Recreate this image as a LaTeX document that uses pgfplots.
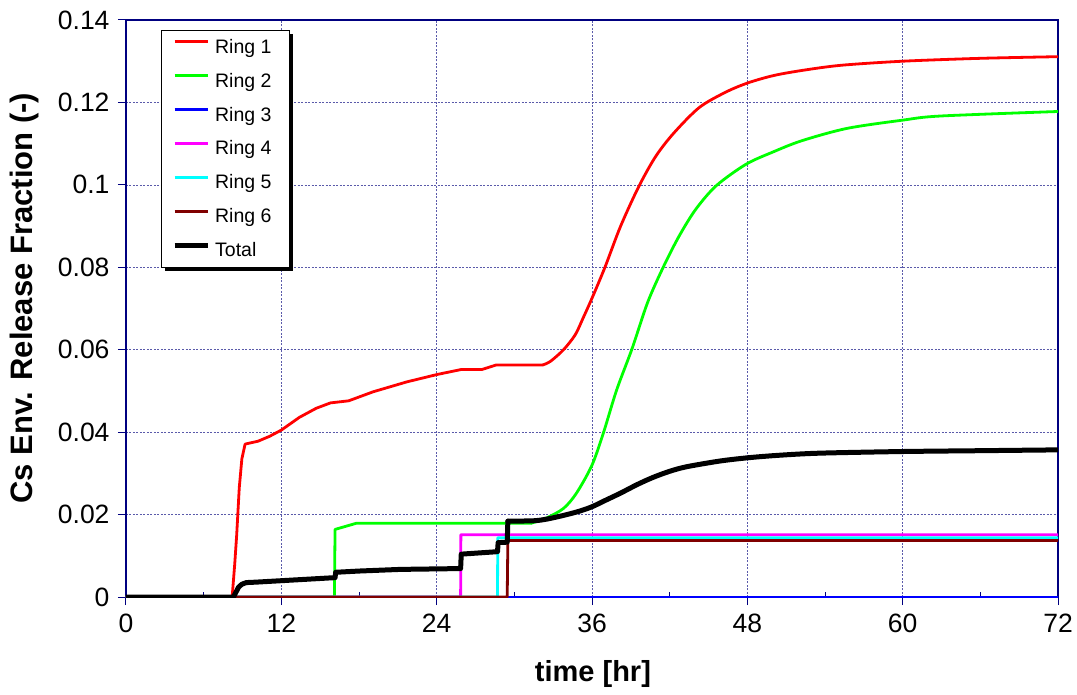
\documentclass[border=0pt]{standalone}
\usepackage{fontspec}
\setmainfont{Liberation Sans}
\usepackage{pgfplots}
\pgfplotsset{compat=1.18}
\definecolor{axnavy}{RGB}{0,0,128}
\definecolor{gridc}{RGB}{90,90,170}
\definecolor{rbrown}{RGB}{128,0,0}
\definecolor{rgreen}{RGB}{0,255,0}
\definecolor{rcyan}{RGB}{0,255,255}
\definecolor{rmag}{RGB}{255,0,255}
\definecolor{rred}{RGB}{255,0,0}
\definecolor{rblue}{RGB}{0,0,255}
\begin{document}
\begin{tikzpicture}
\begin{axis}[name=ax,
  scale only axis, width=932bp, height=577bp,
  xmin=0, xmax=72, ymin=0, ymax=0.14,
  xtick={0,12,24,36,48,60,72},
  ytick={0,0.02,0.04,0.06,0.08,0.1,0.12,0.14},
  extra x ticks={6,18,30,42,54,66},
  extra x tick labels={},
  extra x tick style={tick align=inside, major tick length=5bp, xmajorgrids=false},
  scaled y ticks=false,
  /pgf/number format/assume math mode=true,
  y tick label style={/pgf/number format/fixed, /pgf/number format/precision=2, xshift=-5bp},
  x tick label style={yshift=-5bp},
  tick label style={font=\fontsize{26.5bp}{30bp}\selectfont},
  tick align=outside, major tick length=8bp,
  tick style={draw=axnavy, line width=1bp},
  xtick pos=bottom, ytick pos=left,
  axis line style={draw=axnavy, line width=1.3bp},
  grid=major,
  major grid style={draw=gridc, dash pattern=on 2bp off 1.5bp, line width=0.7bp},
  xlabel={\textbf{time [hr]}},
  ylabel={\textbf{Cs Env. Release Fraction (-)}},
  xlabel style={font=\fontsize{29bp}{34bp}\selectfont, at={(axis description cs:0.501,-0.133)}, anchor=center},
  ylabel style={font=\fontsize{31bp}{36bp}\selectfont, at={(axis description cs:-0.109,0.518)}, anchor=center},
  legend image code/.code={\draw[#1, line cap=butt] (0bp,6.5bp) -- (33bp,6.5bp); \path (37bp,6.5bp);},
  legend cell align=left,
  legend style={at={(0.0343,0.98267)}, anchor=north west, draw=none, fill=none,
    font=\fontsize{19.5bp}{23bp}\selectfont,
    inner xsep=14bp, inner ysep=8bp, row sep=13.9bp,
    nodes={inner xsep=0bp, inner ysep=0bp, text height=15bp, text depth=5bp, font=\fontsize{19.5bp}{23bp}\selectfont},
    /tikz/every odd column/.append style={column sep=1bp}},
  every axis plot/.append style={line join=round, line cap=round},
]
% legend box with shadow
\fill[black] (axis description cs:0.04184,0.56497) rectangle (axis description cs:0.17919,0.97574);
\filldraw[fill=white, draw=black, line width=0.9bp] (axis description cs:0.03755,0.5719) rectangle (axis description cs:0.1749,0.98267);
\addplot[rred, line width=2.8bp] coordinates {
(0,0) (8.2,0) (8.4,0.008) (8.55,0.0150) (8.75,0.0265) (8.95,0.0335) (9.2,0.0371) (10.2,0.0378) (11.1,0.0390) (12.0,0.0405) (13.4,0.0436) (14.7,0.0458) (15.8,0.0471) (17.2,0.0476) (19.1,0.0498) (21.7,0.0522) (24.05,0.054) (25.9,0.0552) (27.5,0.0552) (28.6,0.0563) (32.2,0.0563)
};
\addlegendentry{Ring 1}
\addplot[rred, line width=2.8bp, smooth, forget plot] coordinates {
(32.2,0.0563) (32.8,0.0572) (33.8,0.060) (34.7,0.0636) (35.3,0.0676) (36,0.0725) (37.0,0.080) (38.2,0.0899) (39.6,0.0995) (40.9,0.1068) (42.3,0.1125) (44.3,0.1188) (46.4,0.1226) (48.1,0.1248) (50.0,0.1265) (52.1,0.1277) (55.2,0.1290) (60,0.1300) (66,0.1307) (72,0.1311)
};
\addplot[rgreen, line width=2.8bp] coordinates {
(0,0) (16.1,0) (16.15,0.0164) (17.8,0.0179) (31.3,0.0179)
};
\addlegendentry{Ring 2}
\addplot[rgreen, line width=2.8bp, smooth, forget plot] coordinates {
(31.3,0.0179) (32.5,0.0192) (33.8,0.0215) (34.8,0.0252) (36,0.032) (36.9,0.040) (37.9,0.0502) (39.1,0.0603) (40.3,0.0715) (41.5,0.0800) (42.7,0.0874) (44.0,0.0940) (45.6,0.0998) (47.9,0.1050) (50.0,0.1080) (52.2,0.1107) (55.7,0.1137) (60,0.1157) (62.9,0.1167) (72,0.1178)
};
\addplot[rblue, line width=2.8bp] coordinates {(0,0) (72,0)};
\addlegendentry{Ring 3}
\addplot[rmag, line width=2.8bp] coordinates {(0,0) (25.85,0) (25.87,0.0151) (72,0.0151)};
\addlegendentry{Ring 4}
\addplot[rcyan, line width=2.8bp] coordinates {(0,0) (28.7,0) (28.72,0.0144) (72,0.0144)};
\addlegendentry{Ring 5}
\addplot[rbrown, line width=2.8bp] coordinates {(0,0) (29.45,0) (29.5,0.0137) (72,0.0137)};
\addlegendentry{Ring 6}
\addplot[black, line width=5bp] coordinates {
(0,0) (8.3,0) (8.5,0.0012) (8.7,0.0024) (8.95,0.0031) (9.3,0.0035) (10,0.0036) (16.15,0.0047) (16.2,0.0060) (18,0.0063) (21.2,0.0067) (25.85,0.0069) (25.9,0.0104) (28.7,0.0110) (28.75,0.0132) (29.45,0.0133) (29.5,0.0184)
};
\addlegendentry{Total}
\addplot[black, line width=5bp, smooth, forget plot] coordinates {
(29.5,0.0184) (31.5,0.0185) (32.5,0.0189) (33.8,0.0198) (35,0.0208) (36,0.0219) (37,0.0234) (38.2,0.0252) (39.5,0.0273) (40.7,0.0290) (42,0.0305) (43.3,0.0316) (45.9,0.0330) (48.1,0.0338) (50.5,0.0344) (53.6,0.0349) (60,0.0353) (66,0.0355) (72,0.0357)
};
\end{axis}
\path ([xshift=-126bp,yshift=-97bp]ax.south west) rectangle ([xshift=19bp,yshift=20bp]ax.north east);
\end{tikzpicture}
\end{document}
